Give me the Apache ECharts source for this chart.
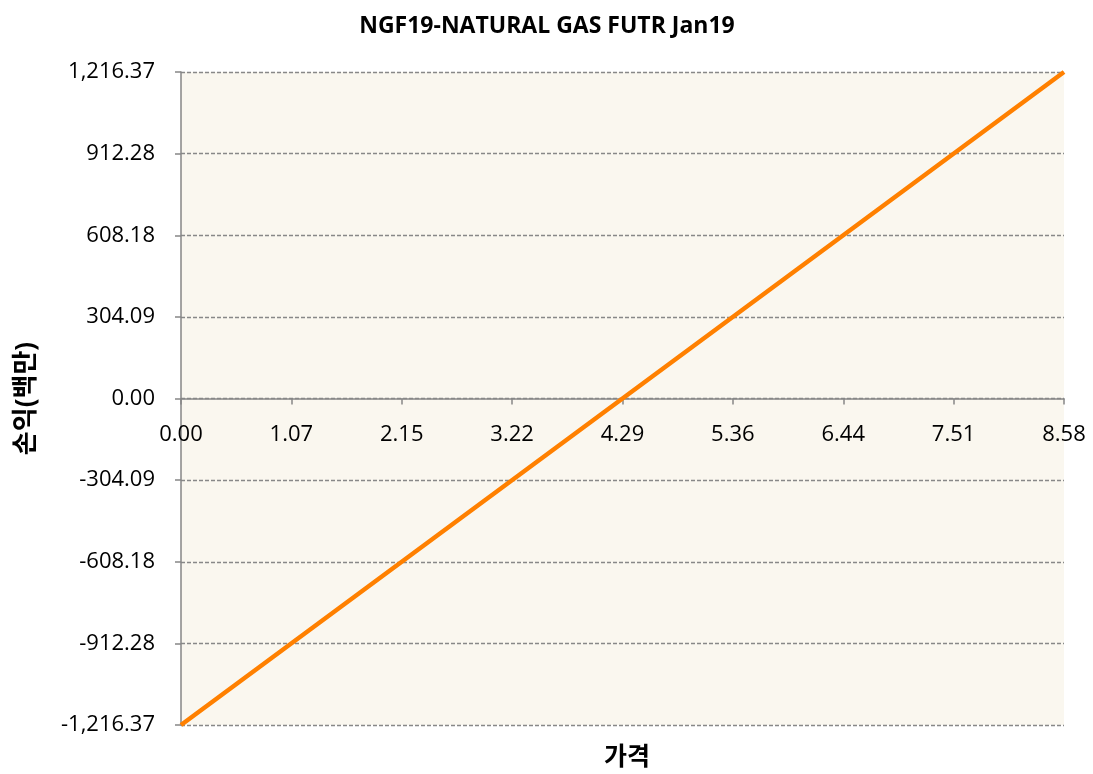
<!DOCTYPE html>
<html><head><meta charset="utf-8">
<script src="https://cdn.jsdelivr.net/npm/echarts@6/dist/echarts.min.js"></script>
<style>html,body{margin:0;padding:0;background:#fff}#c{width:1093px;height:774px}</style>
</head><body><div id="c"></div>
<script>
const prices = [0, 4.29, 8.58];
const pnl = [-1216.37, 0, 1216.37];
const xTickLabels = ['0.00','1.07','2.15','3.22','4.29','5.36','6.44','7.51','8.58'];
const yTickLabels = ['-1,216.37','-912.28','-608.18','-304.09','0.00','304.09','608.18','912.28','1,216.37'];
const titleText = 'NGF19-NATURAL GAS FUTR Jan19';
const xName = '가격';
const yName = '손익(백만)';

const xMax = 8.58, yMax = 1216.37;
const xInt = xMax / 8, yInt = yMax / 4;
const font = '"Open Sans", "Noto Sans CJK KR", sans-serif';
const gridTop = 72, gridBottom = 49, H = 774;
const plotH = H - gridTop - gridBottom;
const zeroOffset = plotH / 2;
const chart = echarts.init(document.getElementById('c'));
chart.setOption({
  animation: false,
  title: [
    { text: titleText, left: 542, top: 10, textAlign: 'center',
      textStyle: { fontFamily: font, fontSize: 23, fontWeight: 'bold', color: '#000' } },
    { text: xName, left: 622, top: 740, textAlign: 'center',
      textStyle: { fontFamily: font, fontSize: 25, fontWeight: 'bold', color: '#000' } }
  ],
  grid: { left: 181, right: 29, top: gridTop, bottom: gridBottom, outerBoundsMode: 'none', containLabel: false,
    show: true, backgroundColor: '#FAF7EF', borderWidth: 0 },
  xAxis: {
    type: 'value', min: 0, max: xMax, interval: xInt, position: 'bottom', offset: -zeroOffset,
    axisLine: { onZero: false, lineStyle: { color: '#868686', width: 1.5 } },
    axisTick: { show: true, inside: false, length: 6, lineStyle: { color: '#868686', width: 1.5 } },
    axisLabel: { margin: 25, fontFamily: font, fontSize: 22, color: '#000',
      formatter: v => xTickLabels[Math.round(v / xInt)] },
    splitLine: { show: false }
  },
  yAxis: {
    type: 'value', min: -yMax, max: yMax, interval: yInt,
    name: yName, nameLocation: 'middle', nameGap: 141, nameRotate: 90,
    nameTextStyle: { fontFamily: font, fontSize: 26, fontWeight: 'bold', color: '#000' },
    axisLine: { show: true, onZero: false, lineStyle: { color: '#868686', width: 1.5 } },
    axisTick: { show: true, length: 6, lineStyle: { color: '#868686', width: 1.5 } },
    axisLabel: { margin: 26, fontFamily: font, fontSize: 22, color: '#000',
      formatter: v => yTickLabels[Math.round(v / yInt) + 4] },
    splitLine: { show: true, lineStyle: { color: '#888888', type: [4, 2], width: 1.3 } }
  },
  series: [{
    type: 'line', data: prices.map((p, i) => [p, pnl[i]]),
    symbol: 'none', lineStyle: { color: '#FF8000', width: 4.5 }
  }]
});
</script></body></html>
